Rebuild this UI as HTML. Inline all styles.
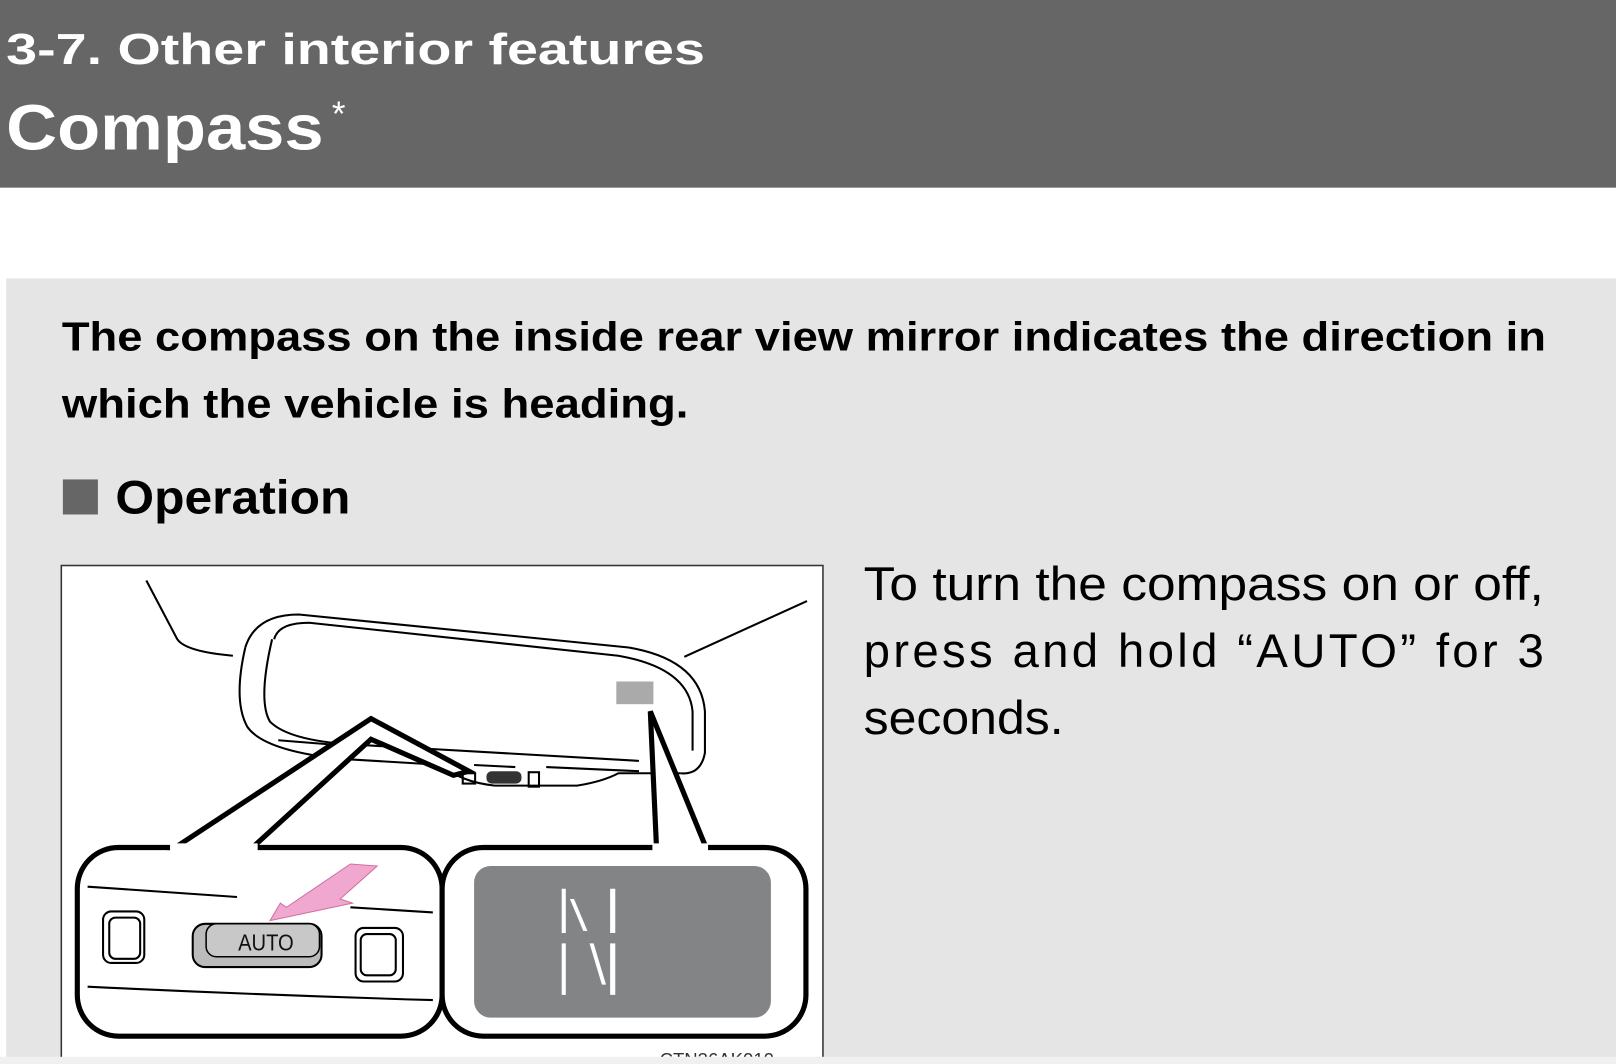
<!DOCTYPE html>
<html><head><meta charset="utf-8"><style>
html,body{margin:0;padding:0;background:#fff;width:1616px;height:1064px;overflow:hidden}
svg{display:block}
</style></head><body>
<svg width="1616" height="1064" viewBox="0 0 1568 1032" preserveAspectRatio="none" xmlns="http://www.w3.org/2000/svg">
<rect x="0" y="0" width="1568" height="182" fill="#666666"/>
<text x="6" y="62" font-family="Liberation Sans, sans-serif" font-weight="bold" font-size="42" fill="#fff" textLength="678" lengthAdjust="spacingAndGlyphs">3-7. Other interior features</text>
<text x="6" y="145" font-family="Liberation Sans, sans-serif" font-weight="bold" font-size="62" fill="#fff" textLength="308" lengthAdjust="spacingAndGlyphs">Compass</text>
<text x="322" y="122" font-family="Liberation Sans, sans-serif" font-size="34" fill="#fff">*</text>
<rect x="6" y="270" width="1562" height="762" fill="#e5e5e5"/>
<text x="60" y="340" font-family="Liberation Sans, sans-serif" font-weight="bold" font-size="40" fill="#000" textLength="1440" lengthAdjust="spacingAndGlyphs">The compass on the inside rear view mirror indicates the direction in</text>
<text x="60" y="405" font-family="Liberation Sans, sans-serif" font-weight="bold" font-size="40" fill="#000" textLength="608" lengthAdjust="spacingAndGlyphs">which the vehicle is heading.</text>
<rect x="61" y="465" width="34" height="34" fill="#666"/>
<text x="112" y="498" font-family="Liberation Sans, sans-serif" font-weight="bold" font-size="46" fill="#000" textLength="228" lengthAdjust="spacingAndGlyphs">Operation</text>
<g font-family="Liberation Sans, sans-serif" font-size="46" fill="#000">
<text x="838" y="582" textLength="660" lengthAdjust="spacingAndGlyphs">To turn the compass on or off,</text>
<text x="838" y="647" textLength="660" lengthAdjust="spacing">press and hold “AUTO” for 3</text>
<text x="838" y="712" textLength="194" lengthAdjust="spacingAndGlyphs">seconds.</text>
</g>
<rect x="59.5" y="548.5" width="739" height="490" fill="#fff" stroke="#333" stroke-width="1.5"/>
<g fill="none" stroke="#000" stroke-width="2">
<path d="M142 563 L172 620 Q180 632 226 636"/>
<path d="M783 583 L664 637"/>
<path d="M238 628 Q248 596 290 596 L610 628 Q680 640 684 690 L684 730 Q680 752 660 750"/>
<path d="M266 620 Q270 604 300 604 L600 636 Q668 648 672 690 L672 728"/>
<path d="M238 628 Q226 680 240 705 Q256 728 330 736 L430 742 Q445 758 480 762 L560 762 Q585 758 600 750 L660 750"/>
<path d="M264 620 Q250 680 262 700 Q280 718 340 722 L620 738"/>
<path d="M270 718 L320 722 M460 742 L500 744 M530 744 L620 748"/>
</g>
<rect x="598" y="661" width="36" height="22" fill="#aaa"/>
<rect x="472" y="748" width="34" height="12" rx="5" fill="#333"/>
<rect x="449" y="750" width="12" height="10" fill="none" stroke="#000" stroke-width="2"/>
<rect x="513" y="749" width="10" height="14" fill="none" stroke="#000" stroke-width="2"/>
<g fill="#fff" stroke="#000" stroke-width="5" stroke-linejoin="round">
<rect x="75" y="822" width="354" height="183" rx="40"/>
<rect x="429" y="822" width="353" height="183" rx="40"/>
</g>
<path d="M170 822 L360 697 L455 748 L440 752 L360 717 L245 822 Z" fill="#fff" stroke="#000" stroke-width="5" stroke-linejoin="miter"/>
<rect x="165" y="818" width="85" height="8" fill="#fff"/>
<path d="M637 822 L631 690 L685 822" fill="#fff" stroke="#000" stroke-width="5"/>
<rect x="633" y="818" width="54" height="8" fill="#fff"/>
<g fill="none" stroke="#000" stroke-width="2">
<path d="M85 860 L230 870 M340 880 L420 885"/>
<path d="M85 957 Q250 965 420 970"/>
<rect x="100" y="884" width="40" height="50" rx="8"/>
<rect x="106" y="890" width="30" height="40" rx="6"/>
<rect x="345" y="900" width="46" height="52" rx="8"/>
<rect x="350" y="906" width="34" height="40" rx="6"/>
</g>
<rect x="187" y="896" width="125" height="42" rx="12" fill="#bbb" stroke="#000" stroke-width="2"/>
<rect x="200" y="896" width="110" height="32" rx="10" fill="#c8c8c8" stroke="#000" stroke-width="1.5"/>
<text x="231" y="922" font-family="Liberation Sans, sans-serif" font-size="22" fill="#111" textLength="54" lengthAdjust="spacingAndGlyphs">AUTO</text>
<path d="M262 893 L272 876 L278 880 L340 838 L366 840 L330 872 L342 876 Z" fill="#f0a8d0" stroke="#d070a0" stroke-width="1"/>
<rect x="460" y="840" width="288" height="147" rx="16" fill="#838486"/>
<g fill="#fff">
<polygon points="545,862 549,862 549,905 545,905"/>
<polygon points="545,915 549,915 549,965 545,965"/>
<polygon points="592,862 597,862 597,905 592,905"/>
<polygon points="592,915 597,915 597,965 592,965"/>
<polygon points="553,872 557,872 570,903 566,903"/>
<polygon points="572,915 576,915 588,955 584,955"/>
</g>
<text x="640" y="1034" font-family="Liberation Sans, sans-serif" font-size="18" fill="#333">CTN36AK010</text>
<rect x="0" y="1025" width="1568" height="7" fill="#f0f0f0"/>
</svg>
</body></html>
